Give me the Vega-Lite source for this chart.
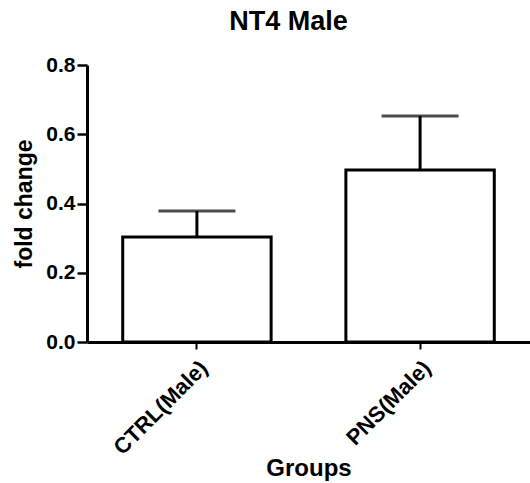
{
  "$schema": "https://vega.github.io/schema/vega-lite/v6.json",
  "width": 443,
  "height": 277,
  "autosize": {"type": "none"},
  "padding": {"left": 87, "top": 65, "right": 0, "bottom": 141},
  "background": "white",
  "title": {
    "text": "NT4 Male",
    "font": "Liberation Sans",
    "fontSize": 27,
    "fontWeight": "bold",
    "color": "black",
    "anchor": "middle",
    "dx": -20,
    "offset": 18
  },
  "config": {
    "view": {"stroke": null},
    "axis": {
      "grid": false,
      "domainColor": "black",
      "domainWidth": 3,
      "tickColor": "black",
      "labelColor": "black",
      "titleColor": "black",
      "labelFont": "Liberation Sans",
      "titleFont": "Liberation Sans",
      "labelFontWeight": "bold",
      "titleFontWeight": "bold"
    }
  },
  "data": {
    "values": [
      {"group": "CTRL(Male)", "mean": 0.303, "upper": 0.378},
      {"group": "PNS(Male)", "mean": 0.497, "upper": 0.653}
    ]
  },
  "encoding": {
    "x": {
      "field": "group",
      "type": "nominal",
      "sort": null,
      "scale": {"paddingInner": 0.335, "paddingOuter": 0.16},
      "axis": {
        "title": "Groups",
        "titleFontSize": 24,
        "titleY": 133,
        "titleBaseline": "alphabetic",
        "labelAngle": -45,
        "labelFontSize": 22,
        "labelPadding": 8,
        "tickSize": 7,
        "tickWidth": 2
      }
    }
  },
  "layer": [
    {
      "mark": {"type": "bar", "fill": "white", "stroke": "black", "strokeWidth": 3},
      "encoding": {
        "y": {
          "field": "mean",
          "type": "quantitative",
          "scale": {"domain": [0, 0.8]},
          "axis": {
            "title": "fold change",
            "titleFontSize": 23,
            "titlePadding": 9,
            "values": [0, 0.2, 0.4, 0.6, 0.8],
            "format": ".1f",
            "labelFontSize": 21,
            "labelPadding": 2,
            "tickSize": 10,
            "tickWidth": 2.5
          }
        }
      }
    },
    {
      "mark": {"type": "rule", "color": "black", "strokeWidth": 3},
      "encoding": {
        "y": {"field": "mean", "type": "quantitative"},
        "y2": {"field": "upper"}
      }
    },
    {
      "mark": {"type": "tick", "color": "black", "thickness": 3, "size": 77, "orient": "horizontal"},
      "encoding": {
        "y": {"field": "upper", "type": "quantitative"}
      }
    }
  ]
}
